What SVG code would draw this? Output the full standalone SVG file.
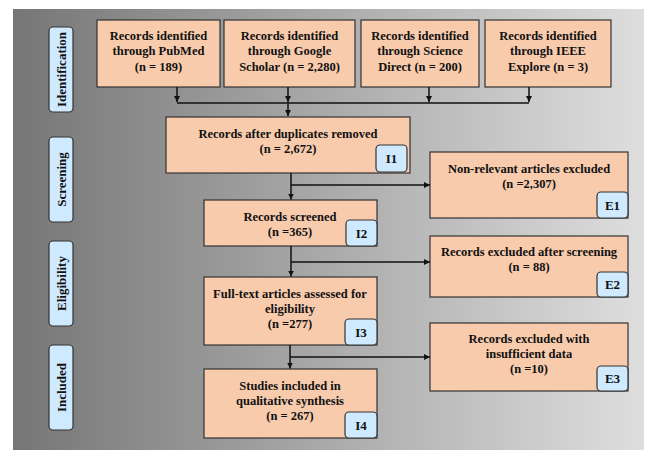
<svg xmlns="http://www.w3.org/2000/svg" width="650" height="450" viewBox="0 0 650 450">
<defs>
<linearGradient id="bg" x1="0" y1="0" x2="1" y2="0">
<stop offset="0" stop-color="#767676"/>
<stop offset="1" stop-color="#dedede"/>
</linearGradient>
<marker id="ah" viewBox="0 0 10 10" refX="10" refY="5" markerWidth="6" markerHeight="6" markerUnits="userSpaceOnUse" orient="auto">
<path d="M0,0 L10,5 L0,10 z" fill="#111"/>
</marker>
<style>
.box{fill:#f8cbad;stroke:#333;stroke-width:1.2}
.tag{fill:#cfeaff;stroke:#333;stroke-width:1.2}
.t{font-family:"Liberation Serif","Times New Roman",serif;font-weight:bold;font-size:12.5px;fill:#111;text-anchor:middle}
.tg{font-family:"Liberation Serif","Times New Roman",serif;font-weight:bold;font-size:13px;fill:#111;text-anchor:middle}
.ln{fill:none;stroke:#111;stroke-width:1.5}
.ar{fill:none;stroke:#111;stroke-width:1.5;marker-end:url(#ah)}
</style>
</defs>
<rect x="13" y="9" width="631" height="441" fill="url(#bg)"/>

<g id="phase-identification"><rect class="tag" x="49" y="27" width="24" height="85" rx="4"/><text class="tg" transform="translate(65.5,69.5) rotate(-90)">Identification</text></g>
<g id="phase-screening"><rect class="tag" x="49" y="137" width="24" height="85" rx="4"/><text class="tg" transform="translate(65.5,179.5) rotate(-90)">Screening</text></g>
<g id="phase-eligibility"><rect class="tag" x="49" y="241" width="24" height="85" rx="4"/><text class="tg" transform="translate(65.5,283.5) rotate(-90)">Eligibility</text></g>
<g id="phase-included"><rect class="tag" x="49" y="345" width="24" height="85" rx="4"/><text class="tg" transform="translate(65.5,387.5) rotate(-90)">Included</text></g>

<g id="pubmed"><rect class="box" x="97" y="20" width="123" height="67"/>
<text class="t" x="158.5" y="39.5">Records identified</text><text class="t" x="158.5" y="55">through PubMed</text><text class="t" x="158.5" y="70.5">(n = 189)</text></g>
<g id="scholar"><rect class="box" x="224" y="20" width="131" height="67"/>
<text class="t" x="289.5" y="39.5">Records identified</text><text class="t" x="289.5" y="55">through Google</text><text class="t" x="289.5" y="70.5">Scholar (n = 2,280)</text></g>
<g id="sciencedirect"><rect class="box" x="361" y="20" width="118" height="67"/>
<text class="t" x="420" y="39.5">Records identified</text><text class="t" x="420" y="55">through Science</text><text class="t" x="420" y="70.5">Direct (n = 200)</text></g>
<g id="ieee"><rect class="box" x="485" y="20" width="126" height="67"/>
<text class="t" x="548" y="39.5">Records identified</text><text class="t" x="548" y="55">through IEEE</text><text class="t" x="548" y="70.5">Explore (n = 3)</text></g>

<g id="I1"><rect class="box" x="166" y="117" width="244" height="56"/>
<text class="t" x="288" y="137.5">Records after duplicates removed</text><text class="t" x="288" y="152.5">(n = 2,672)</text>
<rect class="tag" x="376" y="145" width="31" height="27" rx="4"/><text class="tg" x="391.5" y="163">I1</text></g>
<g id="E1"><rect class="box" x="430" y="152" width="198" height="66"/>
<text class="t" x="529" y="172.5">Non-relevant articles excluded</text><text class="t" x="529" y="187.5">(n =2,307)</text>
<rect class="tag" x="597" y="192" width="31" height="26" rx="4"/><text class="tg" x="612.5" y="209.5">E1</text></g>
<g id="I2"><rect class="box" x="204" y="200" width="173" height="46"/>
<text class="t" x="290" y="220.5">Records screened</text><text class="t" x="290" y="235.5">(n =365)</text>
<rect class="tag" x="346" y="220" width="31" height="26" rx="4"/><text class="tg" x="361.5" y="237.5">I2</text></g>
<g id="E2"><rect class="box" x="430" y="236" width="198" height="61"/>
<text class="t" x="529" y="255.5">Records excluded after screening</text><text class="t" x="529" y="270.5">(n = 88)</text>
<rect class="tag" x="597" y="272" width="31" height="25" rx="4"/><text class="tg" x="612.5" y="289">E2</text></g>
<g id="I3"><rect class="box" x="204" y="277" width="173" height="68"/>
<text class="t" x="290" y="297.5">Full-text articles assessed for</text><text class="t" x="290" y="312.5">eligibility</text><text class="t" x="290" y="327.5">(n =277)</text>
<rect class="tag" x="345" y="319" width="32" height="26" rx="4"/><text class="tg" x="361" y="336.5">I3</text></g>
<g id="E3"><rect class="box" x="430" y="323" width="198" height="68"/>
<text class="t" x="529" y="342.5">Records excluded with</text><text class="t" x="529" y="357.5">insufficient data</text><text class="t" x="529" y="372.5">(n =10)</text>
<rect class="tag" x="597" y="366" width="31" height="25" rx="4"/><text class="tg" x="612.5" y="383">E3</text></g>
<g id="I4"><rect class="box" x="204" y="369" width="173" height="69"/>
<text class="t" x="290" y="389.5">Studies included in</text><text class="t" x="290" y="404.5">qualitative synthesis</text><text class="t" x="290" y="419.5">(n = 267)</text>
<rect class="tag" x="345" y="412" width="32" height="26" rx="4"/><text class="tg" x="361" y="429.5">I4</text></g>

<g id="connectors">
<path class="ar" d="M177,87 V102"/>
<path class="ar" d="M288,87 V102"/>
<path class="ar" d="M429,87 V102"/>
<path class="ar" d="M529,87 V102"/>
<path class="ln" d="M177,103 H529"/>
<path class="ar" d="M288,103 V116"/>
<path class="ar" d="M291,173 V199.5"/>
<path class="ar" d="M291,185 H430"/>
<path class="ar" d="M291,246 V276.5"/>
<path class="ar" d="M291,262 H430"/>
<path class="ar" d="M290,345 V368.5"/>
<path class="ar" d="M290,357 H430"/>
</g>
</svg>
